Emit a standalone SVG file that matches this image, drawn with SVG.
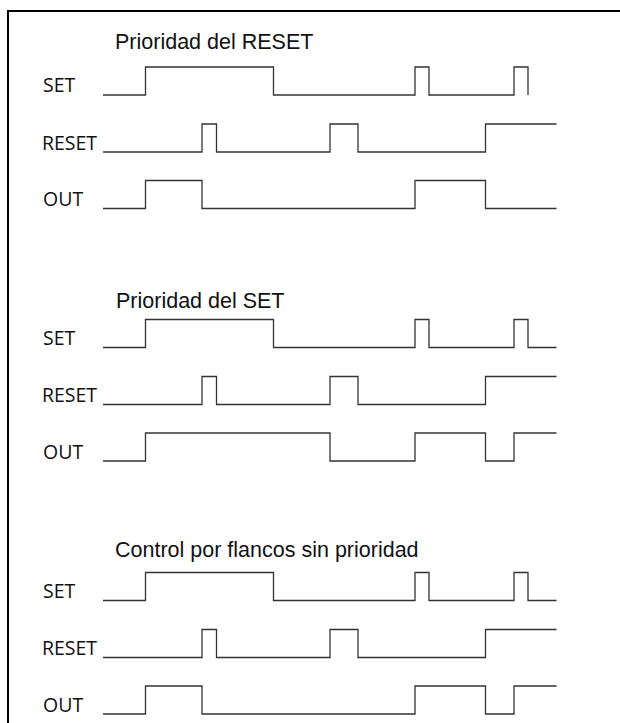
<svg xmlns="http://www.w3.org/2000/svg" width="620" height="723" viewBox="0 0 620 723">
  <style>
    .frame { fill: none; stroke: #000; stroke-width: 2; }
    .wave { fill: none; stroke: #333; stroke-width: 1.3; stroke-linejoin: miter; }
    .title { font-family: "Liberation Sans", Arial, sans-serif; font-size: 21.5px; fill: #111; }
    .lbl { font-family: "Open Sans", "Liberation Sans", sans-serif; font-size: 19.5px; fill: #111; }
  </style>
  <rect width="620" height="723" fill="#fff"/>
  <path class="frame" d="M8,723 V11 H620"/>

  <g id="reset-priority">
    <text class="title" x="115" y="49">Prioridad del RESET</text>
    <g id="s1-set"><text class="lbl" x="43" y="92">SET</text>
      <path class="wave" d="M103,95 H145.5 V67 H273.5 V95 H415 V67 H429 V95 H514 V67 H528 V95"/></g>
    <g id="s1-reset"><text class="lbl" x="42" y="149.5" textLength="55">RESET</text>
      <path class="wave" d="M103,152 H202 V124 H216.5 V152 H330 V124 H358 V152 H485.5 V124 H556.5"/></g>
    <g id="s1-out"><text class="lbl" x="43" y="206">OUT</text>
      <path class="wave" d="M103,208.5 H145.5 V180.5 H202 V208.5 H415 V180.5 H485.5 V208.5 H556.5"/></g>
  </g>

  <g id="set-priority" transform="translate(0,252.5)">
    <text class="title" x="116" y="55">Prioridad del SET</text>
    <g id="s2-set"><text class="lbl" x="43" y="92">SET</text>
      <path class="wave" d="M103,95 H145.5 V67 H273.5 V95 H415 V67 H429 V95 H514 V67 H528 V95 H556.5"/></g>
    <g id="s2-reset"><text class="lbl" x="42" y="149.5" textLength="55">RESET</text>
      <path class="wave" d="M103,152 H202 V124 H216.5 V152 H330 V124 H358 V152 H485.5 V124 H556.5"/></g>
    <g id="s2-out"><text class="lbl" x="43" y="206">OUT</text>
      <path class="wave" d="M103,208.5 H145.5 V180.5 H330 V208.5 H415 V180.5 H485.5 V208.5 H514 V180.5 H556.5"/></g>
  </g>

  <g id="edge-control" transform="translate(0,505.5)">
    <text class="title" x="115" y="51">Control por flancos sin prioridad</text>
    <g id="s3-set"><text class="lbl" x="43" y="92">SET</text>
      <path class="wave" d="M103,95 H145.5 V67 H273.5 V95 H415 V67 H429 V95 H514 V67 H528 V95 H556.5"/></g>
    <g id="s3-reset"><text class="lbl" x="42" y="149.5" textLength="55">RESET</text>
      <path class="wave" d="M103,152 H202 V124 H216.5 V152 H330 V124 H358 V152 H485.5 V124 H556.5"/></g>
    <g id="s3-out"><text class="lbl" x="43" y="206">OUT</text>
      <path class="wave" d="M103,208.5 H145.5 V180.5 H202 V208.5 H415 V180.5 H485.5 V208.5 H514 V180.5 H556.5"/></g>
  </g>
</svg>
